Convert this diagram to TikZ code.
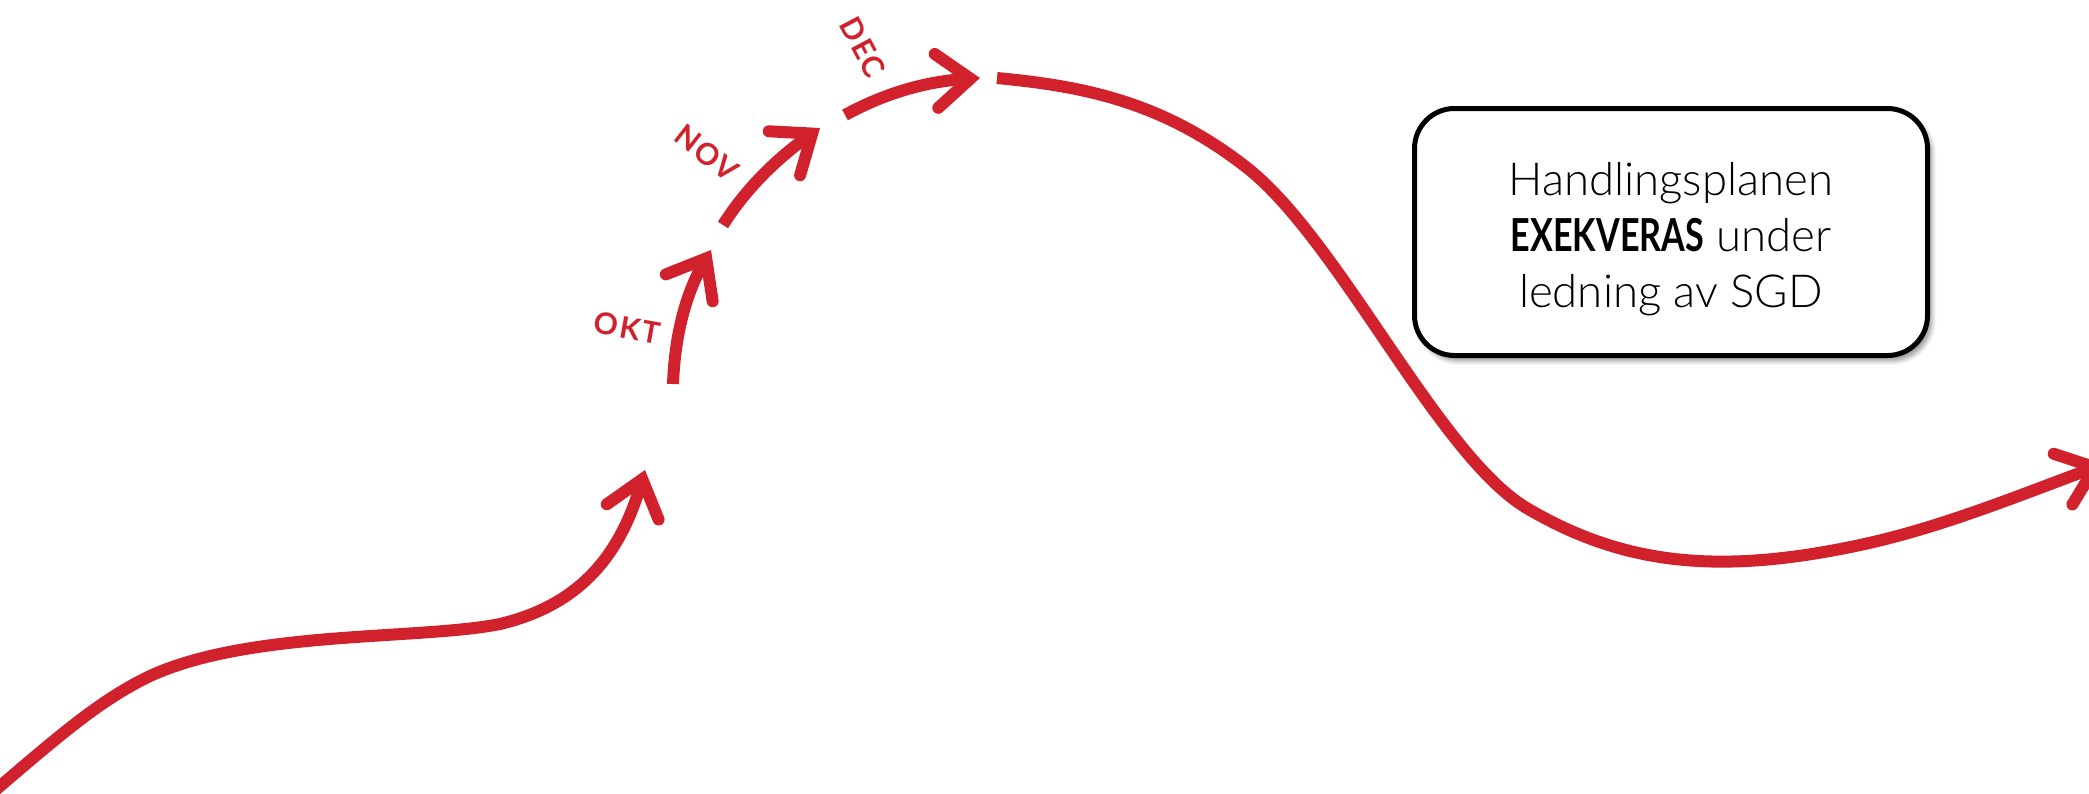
\documentclass[tikz,border=0pt]{standalone}
\usepackage{fontspec}
\setmainfont{Lato}[UprightFont=* Light, BoldFont=* Bold, BoldFeatures={FakeStretch=0.75}]
\newfontfamily\labfont{Lato}[UprightFont=* Bold, LetterSpace=6]
\usetikzlibrary{arrows.meta,shadows.blur}
\definecolor{sgdred}{RGB}{208,33,45}
\tikzset{
  redline/.style={draw=sgdred, line width=12pt},
  redarrow/.style={redline, -{Straight Barb[length=34pt,width=54pt,line cap=round]}},
  monthlabel/.style={text=sgdred, font=\labfont\fontsize{30}{30}\selectfont},
  infobox/.style={draw=black, line width=5pt, rounded corners=40pt, fill=white,
    minimum width=513pt, minimum height=247pt,
    blur shadow={shadow xshift=4pt, shadow yshift=-5pt, shadow blur steps=6, shadow blur radius=5pt, shadow opacity=45}},
  infotext/.style={align=center, font=\fontsize{45.5}{56}\selectfont}
}
\begin{document}
\begin{tikzpicture}[x=1pt,y=-1pt]
\useasboundingbox (0,0) rectangle (2089,793);
\clip (0,0) rectangle (2089,793);
% named points
\coordinate (s1) at (-8,793);
\coordinate (e1) at (645,470);
\coordinate (s2) at (673,384);
\coordinate (e2) at (711,250);
\coordinate (s3) at (723,225);
\coordinate (e3) at (820,128);
\coordinate (s4) at (845,115);
\coordinate (e4) at (980,78);
\coordinate (s5) at (997,78);
\coordinate (e5) at (2104,464);
% curves
\draw[redarrow] (s1) .. controls (60,735) and (100,700) .. (150,676)
  .. controls (250,630) and (420,640) .. (500,624)
  .. controls (580,605) and (620,555) .. (e1);
\draw[redarrow] (s2) .. controls (675,330) and (688,290) .. (e2);
\draw[redarrow] (s3) .. controls (745,190) and (775,160) .. (e3);
\draw[redarrow] (s4) .. controls (880,96) and (920,82) .. (e4);
\draw[redarrow] (s5) .. controls (1080,86) and (1160,100) .. (1246,167)
  .. controls (1340,240) and (1440,460) .. (1530,510)
  .. controls (1625,565) and (1720,575) .. (1860,545)
  .. controls (1940,528) and (2020,495) .. (e5);
% labels
\node[monthlabel, rotate=-10] (okt) at (627,328) {OKT};
\node[monthlabel, rotate=-38] (nov) at (707,153) {NOV};
\node[monthlabel, rotate=-62] (dec) at (863,47) {DEC};
% box
\node[infobox] (box) at (1671,232) {};
\node[infotext] (boxtext) at ([yshift=-7pt]box.center) {Handlingsplanen\\\textbf{EXEKVERAS} under\\ledning av SGD};
\end{tikzpicture}
\end{document}
